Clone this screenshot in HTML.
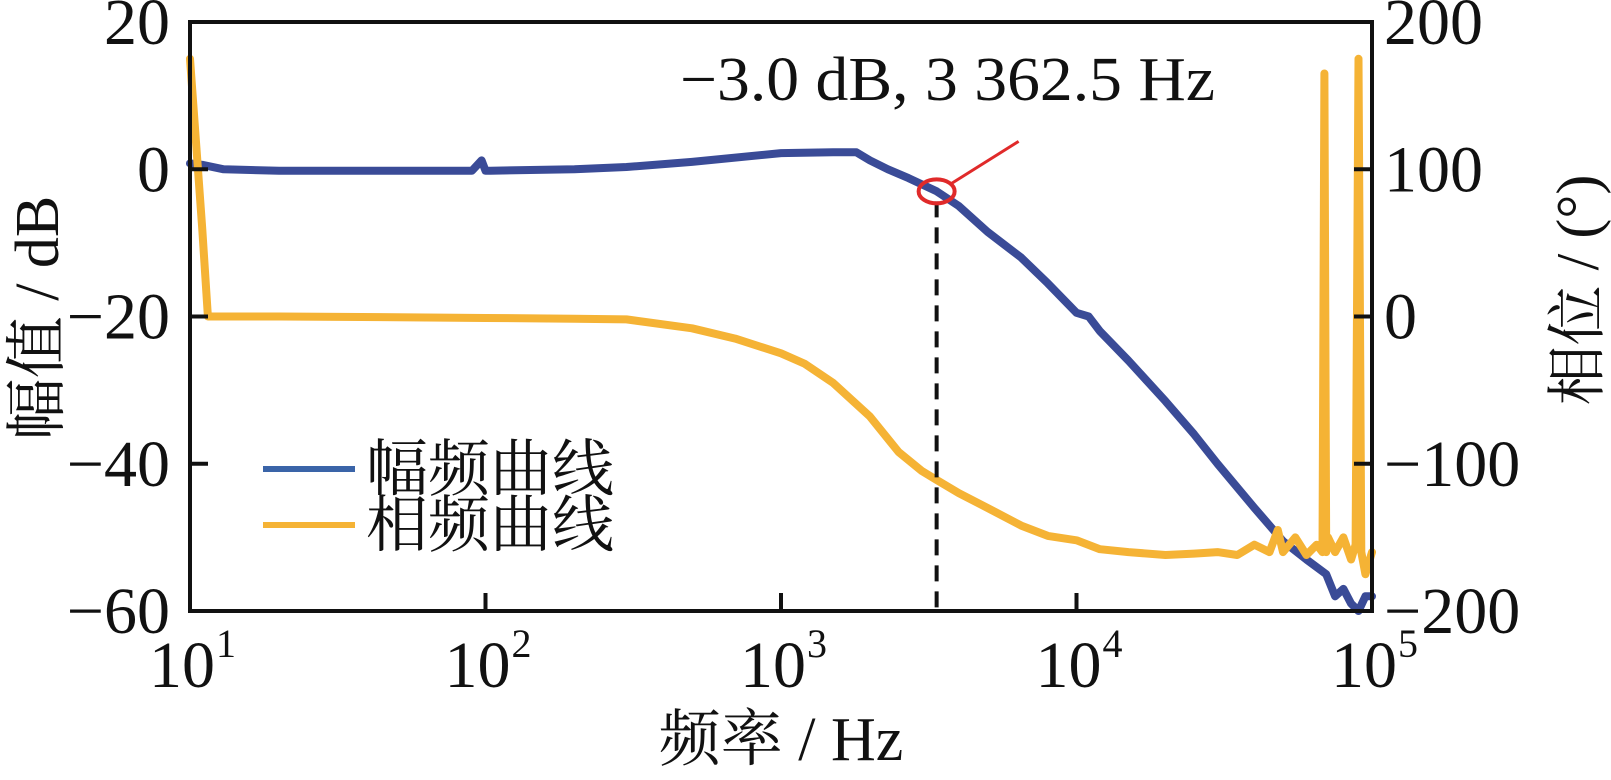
<!DOCTYPE html>
<html><head><meta charset="utf-8"><style>
body{margin:0;background:#fff;}
svg text{font-family:"Liberation Serif","Noto Serif CJK SC",serif;fill:#111;}
</style></head><body>
<svg id="chart" width="1611" height="775" xmlns="http://www.w3.org/2000/svg">
<g id="plot"></g>
</svg>
<script>
const magFreq=[10,11,13,20,40,90,97,100,104,200,300,500,1000,1500,1800,2000,2300,2700,3362,4000,5000,6500,8000,10000,11000,12000,15000,20000,25000,30000,40000,50000,60000,70000,75000,80000,85000,90000,95000,100000];
const magDb=[0.8,0.6,0,-0.2,-0.2,-0.2,1.2,-0.2,-0.2,0,0.3,1,2.2,2.3,2.3,1.2,0,-1.2,-3,-5,-8.5,-12,-15.5,-19.5,-20,-22,-26,-31.5,-36,-40,-46,-50.5,-53,-55,-58,-57,-59,-60,-58,-58];
const phFreq=[10,11,11.5,20,50,100,200,300,500,700,1000,1200,1500,2000,2500,3000,3362,4000,5000,6500,8000,10000,12000,15000,20000,25000,30000,35000,40000,45000,48000,50000,55000,60000,65000,68000,69000,70000,71000,75000,80000,85000,88000,90000,92000,95000,100000];
const phDeg=[175,60,0,0,-0.5,-1,-1.5,-2,-8,-15,-25,-32,-45,-68,-92,-105,-111,-120,-130,-142,-149,-152,-158,-160,-162,-161,-160,-162,-155,-160,-145,-160,-150,-162,-155,-160,165,-160,-150,-160,-150,-165,-155,175,-160,-175,-160];
const yMagTicks=[20,0,-20,-40,-60];
const yPhTicks=[200,100,0,-100,-200];
const xExp=[1,2,3,4,5];

const L=190,R=1372,T=22,B=611;
const xs=f=>L+(Math.log10(f)-1)/4*(R-L);
const ym=v=>T+(20-v)/80*(B-T);
const yp=v=>T+(200-v)/400*(B-T);
const NS="http://www.w3.org/2000/svg";
const g=document.getElementById('plot');
function mk(tag,attrs,txt){const e=document.createElementNS(NS,tag);for(const k in attrs)e.setAttribute(k,attrs[k]);if(txt!==undefined)e.textContent=txt;g.appendChild(e);return e;}

let d=magFreq.map((f,i)=>(i?'L':'M')+xs(f).toFixed(1)+','+ym(magDb[i]).toFixed(1)).join('');
let mag=mk('path',{d:d,fill:'none',stroke:'#3a4b97','stroke-width':8,'stroke-linejoin':'round','stroke-linecap':'round'});


d=phFreq.map((f,i)=>(i?'L':'M')+xs(f).toFixed(1)+','+yp(phDeg[i]).toFixed(1)).join('');
let ph=mk('path',{d:d,fill:'none',stroke:'#f5b335','stroke-width':8,'stroke-linejoin':'round','stroke-linecap':'round'});



let fr=mk('rect',{x:L,y:T,width:R-L,height:B-T,fill:'none',stroke:'#111','stroke-width':4});



yMagTicks.forEach(v=>{
  const y=ym(v);
  mk('line',{x1:L,x2:L+18,y1:y,y2:y,stroke:'#111','stroke-width':4});
  let t=mk('text',{x:L-20,y:y+22,'text-anchor':'end','font-size':66},(v<0?'\u2212':'')+Math.abs(v));
  
  
});
yPhTicks.forEach(v=>{
  const y=yp(v);
  mk('line',{x1:R-18,x2:R,y1:y,y2:y,stroke:'#111','stroke-width':4});
  let t=mk('text',{x:R+12,y:y+22,'font-size':66},(v<0?'\u2212':'')+Math.abs(v));
  
  
});
xExp.forEach(e=>{
  const x=xs(Math.pow(10,e));
  mk('line',{x1:x,x2:x,y1:B,y2:B-18,stroke:'#111','stroke-width':4});
  let t=mk('text',{x:x-8,y:B+76,'text-anchor':'middle','font-size':66},'10');
  
  
  let s=mk('text',{x:x+26,y:B+46,'font-size':40},String(e));
  
  
});

const fc=3362.5, xc=xs(fc), yc=ym(-3);
let dl=mk('line',{x1:xc,x2:xc,y1:yc+10,y2:B,stroke:'#111','stroke-width':4,'stroke-dasharray':'16,10'});


let el=mk('ellipse',{cx:xc,cy:yc,rx:18,ry:12,fill:'none',stroke:'#e02a2a','stroke-width':4});


let rl=mk('line',{x1:xc+15,y1:yc-8,x2:xc+82,y2:yc-50,stroke:'#e02a2a','stroke-width':3});


let at=mk('text',{x:680,y:100,'font-size':62,textLength:535,lengthAdjust:'spacingAndGlyphs'},'\u22123.0 dB, 3 362.5 Hz');



let l1=mk('line',{x1:263,x2:355,y1:469,y2:469,stroke:'#3a64a8','stroke-width':6});


let t1=mk('text',{x:366,y:490,'font-size':62},'幅频曲线');


let l2=mk('line',{x1:263,x2:355,y1:525,y2:525,stroke:'#f5b335','stroke-width':6});


let t2=mk('text',{x:366,y:546,'font-size':62},'相频曲线');



let xt=mk('text',{x:781,y:760,'text-anchor':'middle','font-size':62},'频率 / Hz');


let ytl=mk('text',{x:0,y:0,'text-anchor':'middle','font-size':62,transform:'translate(58,318) rotate(-90)'},'幅值 / dB');


let ytr=mk('text',{x:0,y:0,'text-anchor':'middle','font-size':60,transform:'translate(1598,290) rotate(-90)'},'相位 / (°)');


</script>
</body></html>
